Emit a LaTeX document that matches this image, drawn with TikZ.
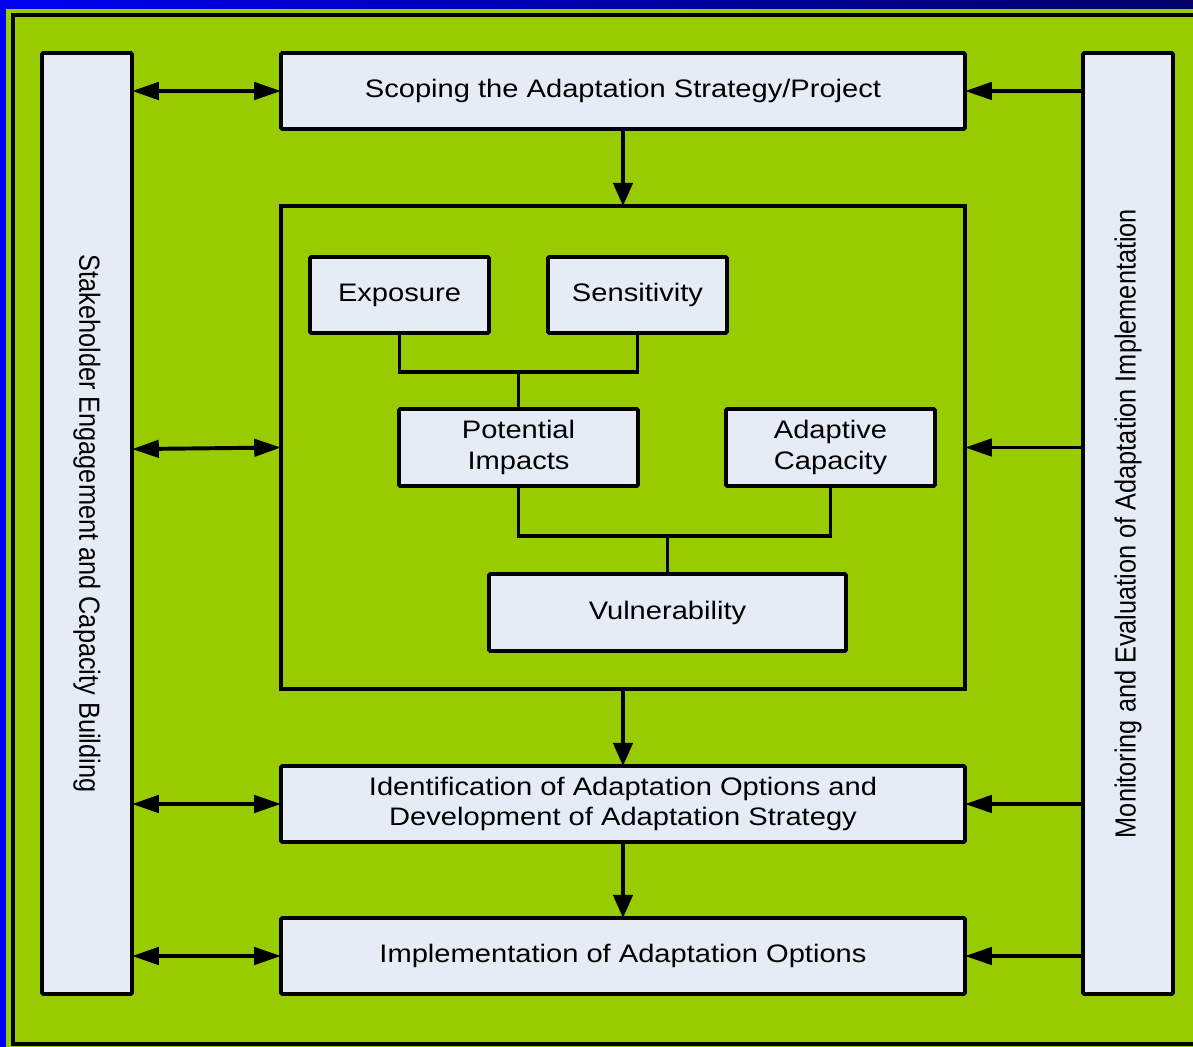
\documentclass[tikz,border=0pt]{standalone}
\usepackage{fontspec}
\setmainfont[FakeStretch=1.15]{Liberation Sans}
\newfontfamily\vertfont[FakeStretch=0.87]{Liberation Sans}
\usetikzlibrary{arrows.meta}
\definecolor{bggreen}{HTML}{99CC00}
\definecolor{boxfill}{HTML}{E6ECF6}
\definecolor{blueL}{HTML}{0000F0}
\definecolor{blueR}{HTML}{000066}
\tikzset{
  box/.style={draw=black, fill=boxfill, line width=2.8pt, rounded corners=1pt, inner sep=0pt, outer sep=0pt, align=center, font=\fontsize{18}{21.5}\selectfont},
  vtext/.style={font=\vertfont\fontsize{20.7}{22}\selectfont},
  conn/.style={draw=black, line width=2.8pt},
  harr/.style={conn, -{Triangle[length=0.67cm,width=0.43cm]}},
  varr/.style={conn, -{Triangle[length=0.58cm,width=0.48cm]}},
  dbl/.style={conn, {Triangle[length=0.67cm,width=0.43cm]}-{Triangle[length=0.67cm,width=0.43cm]}}
}
\begin{document}
\begin{tikzpicture}[x=0.025cm,y=-0.025cm]
\useasboundingbox (0,0) rectangle (1193,1047);
% background
\fill[blueL] (0,0) rectangle (1193,1047);
\shade[left color=blueL, right color=blueR] (0,0) rectangle (1193,9);
\fill[bggreen] (6,9) rectangle (1193,1047);
\draw[black, line width=2.8pt] (1193,15) -- (13,15) -- (13,1044) -- (1193,1044);
% side boxes
\node[box, minimum width=90*0.025cm, minimum height=941*0.025cm] (L) at (87,523.5) {};
\node[rotate=-90, vtext] (Ltext) at (L.center) {Stakeholder Engagement and Capacity Building};
\node[box, minimum width=90*0.025cm, minimum height=941*0.025cm] (R) at (1128,523.5) {};
\node[rotate=90, vtext] (Rtext) at (R.center) {Monitoring and Evaluation of Adaptation Implementation};
% main column
\node[box, minimum width=684*0.025cm, minimum height=76*0.025cm] (scope) at (623,91) {Scoping the Adaptation Strategy/Project};
\node[draw=black, line width=2.8pt, inner sep=0pt, outer sep=0pt, minimum width=684*0.025cm, minimum height=483*0.025cm] (mid) at (623,447.5) {};
\node[box, minimum width=684*0.025cm, minimum height=76*0.025cm] (ident) at (623,804) {Identification of Adaptation Options and\\Development of Adaptation Strategy};
\node[box, minimum width=684*0.025cm, minimum height=76*0.025cm] (impl) at (623,956) {Implementation of Adaptation Options};
% inner boxes
\node[box, minimum width=179*0.025cm, minimum height=76*0.025cm] (expo) at (399.5,295) {Exposure};
\node[box, minimum width=179*0.025cm, minimum height=76*0.025cm] (sens) at (637.5,295) {Sensitivity};
\node[box, minimum width=239*0.025cm, minimum height=77*0.025cm] (pot) at (518.5,447.5) {Potential\\Impacts};
\node[box, minimum width=209*0.025cm, minimum height=77*0.025cm] (adap) at (830.5,447.5) {Adaptive\\Capacity};
\node[box, minimum width=357*0.025cm, minimum height=77*0.025cm] (vuln) at (667.5,612.5) {Vulnerability};
% tree connectors
\coordinate (j1) at (518.5,372);
\coordinate (j2) at (667.5,536);
\draw[conn] (expo.south) |- (j1) -| (sens.south);
\draw[conn] (j1) -- (pot.north);
\draw[conn] (pot.south) |- (j2) -| (adap.south);
\draw[conn] (j2) -- (vuln.north);
% vertical flow
\draw[varr] (scope.south) -- (mid.north);
\draw[varr] (mid.south) -- (ident.north);
\draw[varr] (ident.south) -- (impl.north);
% left double arrows
\draw[dbl] (L.east |- scope.west) -- (scope.west);
\draw[dbl] ([yshift=-0.04cm]L.east |- mid.west) -- (mid.west);
\draw[dbl] (L.east |- ident.west) -- (ident.west);
\draw[dbl] (L.east |- impl.west) -- (impl.west);
% right arrows
\draw[harr] (R.west |- scope.east) -- (scope.east);
\draw[harr] (R.west |- mid.east) -- (mid.east);
\draw[harr] (R.west |- ident.east) -- (ident.east);
\draw[harr] (R.west |- impl.east) -- (impl.east);
\end{tikzpicture}
\end{document}
